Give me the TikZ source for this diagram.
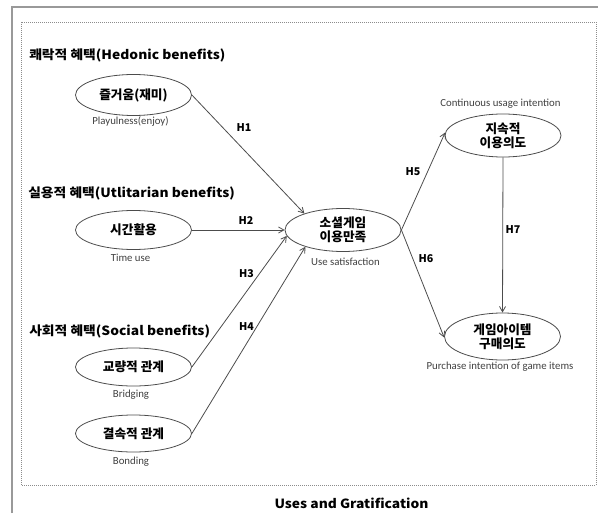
\documentclass[tikz,border=0pt]{standalone}
\usepackage{fontspec}
\setmainfont{Carlito}
\newfontfamily\kr{Noto Sans CJK KR}
\newfontfamily\krw{Noto Sans CJK KR}[FakeStretch=1.09]
\usetikzlibrary{shapes.geometric,arrows.meta}
\begin{document}
\begin{tikzpicture}[x=0.75pt,y=-0.75pt,
  ell/.style={draw=black!70, line width=0.6pt, ellipse, inner sep=0pt, minimum width=87pt, minimum height=#1},
  ktxt/.style={font=\kr\bfseries\fontsize{9.5}{10.5}\selectfont, align=center, inner sep=0pt},
  ttl/.style={font=\krw\bfseries\fontsize{9.5}{11}\selectfont, anchor=west, inner sep=0pt},
  sub/.style={font=\fontsize{8.1}{9}\selectfont, text=black!75, inner sep=0pt},
  hyp/.style={font=\kr\bfseries\fontsize{8}{9}\selectfont, inner sep=0pt},
  conn/.style={draw=black!70, line width=0.6pt, -{Straight Barb[length=4pt,width=4.5pt]}}
]
\useasboundingbox (0,0) rectangle (598,513);
% frames
\draw[black!40, line width=1.1pt] (12,513) -- (12,7) -- (598,7);
\draw[black!45, densely dotted, line width=0.5pt] (21,22) rectangle (596,485);

% category titles
\node[ttl] (t1) at (29,55) {쾌락적 혜택(Hedonic benefits)};
\node[ttl] (t2) at (28,193) {실용적 혜택(Utlitarian benefits)};
\node[ttl] (t3) at (29,331) {사회적 혜택(Social benefits)};

% ellipses
\node[ell=30.75pt] (joy) at (133.5,95) {};
\node[ktxt] at (joy) {즐거움(재미)};
\node[sub] (joyl) at (130.5,121) {Playulness(enjoy)};

\node[ell=29.25pt] (time) at (133.5,230) {};
\node[ktxt] at (time) {시간활용};
\node[sub] (timel) at (130.5,258) {Time use};

\node[ell=28.5pt] (bridge) at (133.5,367) {};
\node[ktxt] at (bridge) {교량적 관계};
\node[sub] (bridgel) at (131,395) {Bridging};

\node[ell=27.75pt] (bond) at (133.5,433.5) {};
\node[ktxt] at (bond) {결속적 관계};
\node[sub] (bondl) at (131,462) {Bonding};

\node[ell=32.25pt] (sat) at (343,230) {};
\node[ktxt] at (sat) {소셜게임\\이용만족};
\node[sub] (satl) at (345.5,262) {Use satisfaction};

\node[ell=32.25pt] (cont) at (503,135.5) {};
\node[ktxt] at (cont) {지속적\\이용의도};
\node[sub] (contl) at (500.5,104) {Continuous usage intention};

\node[ell=35.25pt] (purch) at (502.5,336.5) {};
\node[ktxt] at (purch) {게임아이템\\구매의도};
\node[sub] (purchl) at (500,367) {Purchase intention of game items};

% connectors
\draw[conn] (joy.east) -- (sat.157.5);
\draw[conn] (time.east) -- (sat.west);
\draw[conn] (bridge.east) -- (sat.186);
\draw[conn] (bond.east) -- (sat.204);
\draw[conn] (sat.east) -- (cont.177);
\draw[conn] (sat.east) -- (purch.181);
\draw[conn] (cont.south) -- (purch.north);

% hypothesis labels
\node[hyp] (h1) at (244,128) {H1};
\node[hyp] (h2) at (246,221) {H2};
\node[hyp] (h3) at (246.5,274) {H3};
\node[hyp] (h4) at (246.5,327) {H4};
\node[hyp] (h5) at (413,172) {H5};
\node[hyp] (h6) at (426,259) {H6};
\node[hyp] (h7) at (513,230) {H7};

% caption
\node[font=\krw\bfseries\fontsize{9.5}{11}\selectfont, inner sep=0pt] (cap) at (351.5,503) {Uses and Gratification};
\end{tikzpicture}
\end{document}
